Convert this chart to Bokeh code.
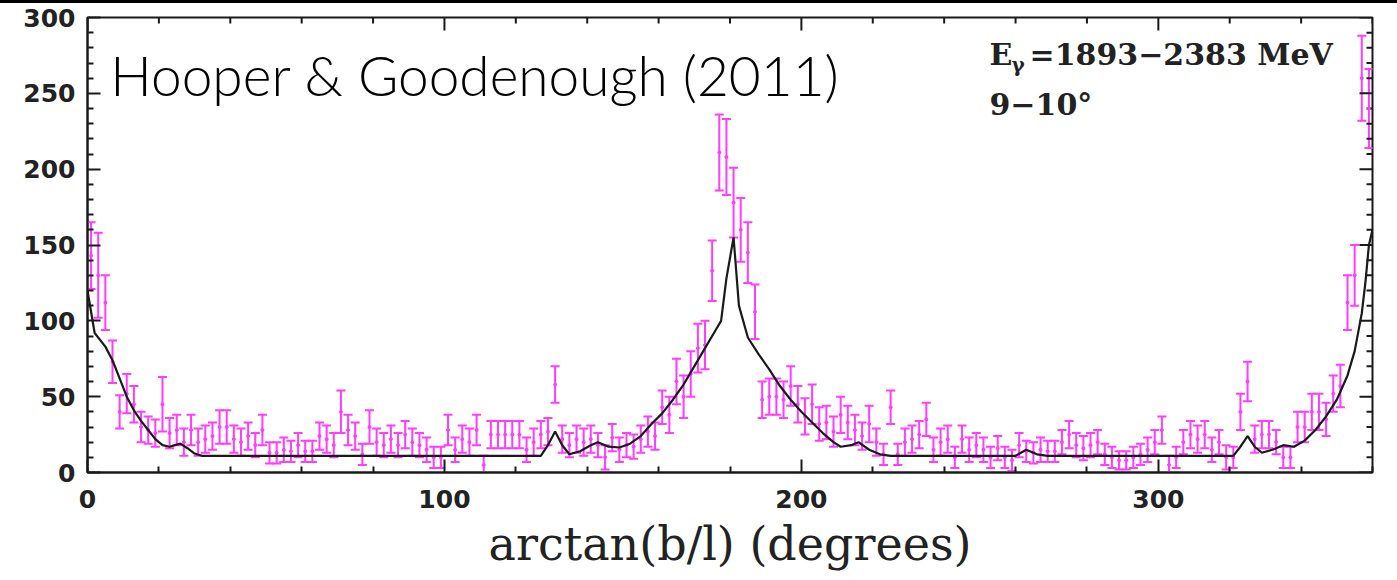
import math
from bokeh.plotting import figure
from bokeh.models import (Range1d, FixedTicker, Whisker, ColumnDataSource,
                          Label, TeeHead, Div)
from bokeh.layouts import column
from bokeh.embed import file_html
from bokeh.resources import INLINE

# ---------------- data ----------------
bin_centers = list(range(1, 360, 2))

counts = [
    143, 130, 112, 73, 40, 52, 45, 30, 28, 26,      # 1-19
    45, 26, 28, 20, 28, 20, 22, 24, 30, 30,         # 21-39
    22, 20, 24, 18, 28, 13, 13, 15, 14, 18,         # 41-59
    14, 14, 24, 22, 18, 40, 28, 24, 12, 30,         # 61-79
    20, 18, 22, 18, 25, 20, 18, 15, 10, 10,         # 81-99
    28, 15, 22, 20, 28, 5, 25, 25, 25, 25,          # 101-119
    25, 15, 20, 25, 27, 58, 22, 18, 22, 20,         # 121-139
    22, 18, 10, 23, 15, 18, 17, 22, 27, 24,         # 141-159
    43, 38, 60, 50, 65, 82, 84, 133, 211, 208,      # 161-179
    178, 160, 145, 106, 48, 50, 50, 48, 57, 45,     # 181-199
    37, 45, 32, 33, 27, 38, 33, 28, 24, 32,         # 201-219
    20, 12, 43, 12, 20, 22, 25, 35, 15, 20,         # 221-239
    22, 10, 22, 15, 18, 15, 10, 16, 10, 8,          # 241-259
    18, 14, 13, 15, 14, 14, 20, 25, 18, 16,         # 261-279
    18, 20, 12, 10, 8, 8, 10, 12, 15, 20,           # 281-299
    28, 5, 10, 20, 25, 22, 25, 15, 20, 10,          # 301-319
    10, 40, 60, 22, 25, 25, 20, 10, 10, 30,         # 321-339
    30, 40, 40, 35, 52, 57, 112, 130, 260, 240,     # 341-359
]

errors = [
    22, 28, 18, 14, 11, 13, 12, 10, 9, 9,
    18, 10, 10, 9, 10, 9, 9, 9, 11, 11,
    9, 9, 9, 8, 10, 7, 7, 8, 7, 8,
    7, 7, 9, 9, 8, 14, 10, 9, 7, 11,
    9, 8, 9, 8, 9, 9, 8, 8, 7, 7,
    10, 8, 9, 9, 10, 6, 9, 9, 9, 9,
    9, 8, 9, 9, 9, 12, 9, 8, 9, 9,
    9, 8, 8, 9, 8, 8, 8, 9, 10, 9,
    11, 12, 15, 14, 15, 16, 16, 20, 25, 25,
    23, 21, 20, 18, 12, 12, 12, 12, 13, 12,
    12, 13, 11, 11, 10, 12, 11, 10, 9, 12,
    9, 7, 11, 7, 9, 9, 9, 11, 8, 9,
    9, 7, 9, 8, 8, 8, 7, 8, 7, 7,
    8, 7, 7, 8, 7, 7, 8, 9, 8, 8,
    8, 8, 7, 7, 6, 6, 7, 7, 8, 8,
    9, 6, 7, 8, 9, 9, 9, 8, 8, 8,
    7, 12, 13, 9, 9, 9, 8, 7, 7, 10,
    10, 12, 12, 11, 12, 14, 18, 20, 28, 26,
]

model_x = [0, 2, 5, 7, 9, 11, 13, 15, 17, 19, 21, 23, 26, 28, 30, 32,
           127, 129, 131, 133, 135, 138, 141, 143, 146, 149, 152, 155, 158, 161,
           164, 167, 170, 173, 176, 177.5, 179, 181, 182.5, 185, 188, 191, 194,
           197, 200, 203, 206, 209, 211, 214, 216, 219, 222, 225,
           260, 263, 266, 269, 321, 323, 325, 327, 329, 332, 335, 338, 341, 344,
           347, 350, 353, 355, 357, 358, 359, 360]
model_y = [120, 92, 83, 74, 62, 50, 41, 34, 28, 22, 18, 17, 19, 16, 12.5, 11,
           11, 18, 27, 18, 12, 14, 18, 20, 17, 16.5, 19, 24, 32, 39,
           48, 58, 70, 82, 94, 100, 128, 155, 110, 89, 78, 68, 57,
           48, 40, 33, 26, 20, 17, 18, 20, 15, 12, 11,
           11, 15, 12, 11, 11, 17, 24, 17, 13, 15, 18, 17, 21, 28,
           37, 48, 64, 80, 105, 125, 150, 160]

x_major = [0, 100, 200, 300]
x_minor = [v for v in range(0, 361, 20) if v % 100 != 0]
y_major = [0, 50, 100, 150, 200, 250, 300]
y_minor = [v for v in range(0, 301, 10) if v % 50 != 0]

title_text = "Hooper & Goodenough (2011)"
energy_text = "=1893\u22122383 MeV"
angle_text = "9\u221210\u00b0"
x_label = "arctan(b/l) (degrees)"

X_MAX = 360
Y_MAX = 300

MAG = "#ff3cff"
INK = "#1a1a1a"

# ---------------- figure ----------------
p = figure(width=1397, height=577, x_range=Range1d(0, X_MAX), y_range=Range1d(0, Y_MAX),
           output_backend="svg", toolbar_location=None,
           min_border_left=87, min_border_right=25, min_border_top=14,
           min_border_bottom=108, margin=0)
p.grid.visible = False
p.outline_line_color = INK
p.outline_line_width = 2
p.background_fill_color = "white"
p.border_fill_color = "white"

xt = FixedTicker(ticks=x_major, minor_ticks=x_minor)
yt = FixedTicker(ticks=y_major, minor_ticks=y_minor)

for ax in (p.xaxis[0], p.yaxis[0]):
    ax.axis_line_color = INK
    ax.axis_line_width = 2
    ax.major_tick_line_color = INK
    ax.major_tick_line_width = 2
    ax.minor_tick_line_color = INK
    ax.minor_tick_line_width = 2
    ax.major_tick_in = 13
    ax.major_tick_out = 0
    ax.minor_tick_in = 6
    ax.minor_tick_out = 0
    ax.major_label_text_font = "DejaVu Sans"
    ax.major_label_text_font_style = "bold"
    ax.major_label_text_font_size = "25px"
    ax.major_label_text_color = "#222222"

p.xaxis[0].ticker = xt
p.yaxis[0].ticker = yt
p.xaxis[0].major_label_standoff = 17
p.yaxis[0].major_label_standoff = 12
p.xaxis[0].axis_label = x_label
p.xaxis[0].axis_label_text_font = "DejaVu Serif"
p.xaxis[0].axis_label_text_font_style = "normal"
p.xaxis[0].axis_label_text_font_size = "46px"
p.xaxis[0].axis_label_text_color = "#222222"
p.xaxis[0].axis_label_standoff = 6

# mirrored inward ticks on the top and right frame edges
p.scatter(x_major, [Y_MAX] * len(x_major), marker="dash", size=26, angle=math.pi / 2,
          line_color=INK, line_width=2)
p.scatter(x_minor, [Y_MAX] * len(x_minor), marker="dash", size=12, angle=math.pi / 2,
          line_color=INK, line_width=2)
p.scatter([X_MAX] * len(y_major), y_major, marker="dash", size=26,
          line_color=INK, line_width=2)
p.scatter([X_MAX] * len(y_minor), y_minor, marker="dash", size=12,
          line_color=INK, line_width=2)

# ---------------- data marks ----------------
src = ColumnDataSource(dict(
    x=bin_centers,
    y=counts,
    lo=[c - e for c, e in zip(counts, errors)],
    hi=[c + e for c, e in zip(counts, errors)],
))
whisk = Whisker(source=src, base="x", lower="lo", upper="hi",
                line_color=MAG, line_width=2,
                upper_head=TeeHead(size=9, line_color=MAG, line_width=2),
                lower_head=TeeHead(size=9, line_color=MAG, line_width=2))
p.add_layout(whisk)
p.scatter("x", "y", source=src, size=3, color=MAG)
p.line(model_x, model_y, line_color=INK, line_width=2.2)

# ---------------- annotations ----------------
p.add_layout(Label(x=6.4, y=262.4, text=title_text, text_font="Lato Light",
                   text_font_size="55px", text_color="black",
                   text_baseline="alphabetic"))
p.add_layout(Label(x=252.7, y=275.5, text="E", text_font="DejaVu Serif",
                   text_font_style="bold", text_font_size="30px", text_color="#222222",
                   text_baseline="alphabetic"))
p.add_layout(Label(x=252.7, y=275.5, x_offset=22, y_offset=-10, text="\u03b3",
                   text_font="DejaVu Serif", text_font_style="bold",
                   text_font_size="20px", text_color="#222222",
                   text_baseline="alphabetic"))
p.add_layout(Label(x=252.7, y=275.5, x_offset=40, text=energy_text,
                   text_font="DejaVu Serif", text_font_style="bold",
                   text_font_size="30px", text_color="#222222",
                   text_baseline="alphabetic"))
p.add_layout(Label(x=252.7, y=242.6, text=angle_text, text_font="DejaVu Serif",
                   text_font_style="bold", text_font_size="30px", text_color="#222222",
                   text_baseline="alphabetic"))

# thin black band across the very top of the picture
band = Div(width=1397, height=3, margin=0,
           styles={"background-color": "black", "margin": "0", "padding": "0"})
layout = column(band, p, spacing=0, margin=0)

open("out.html", "w").write(file_html(layout, INLINE))
